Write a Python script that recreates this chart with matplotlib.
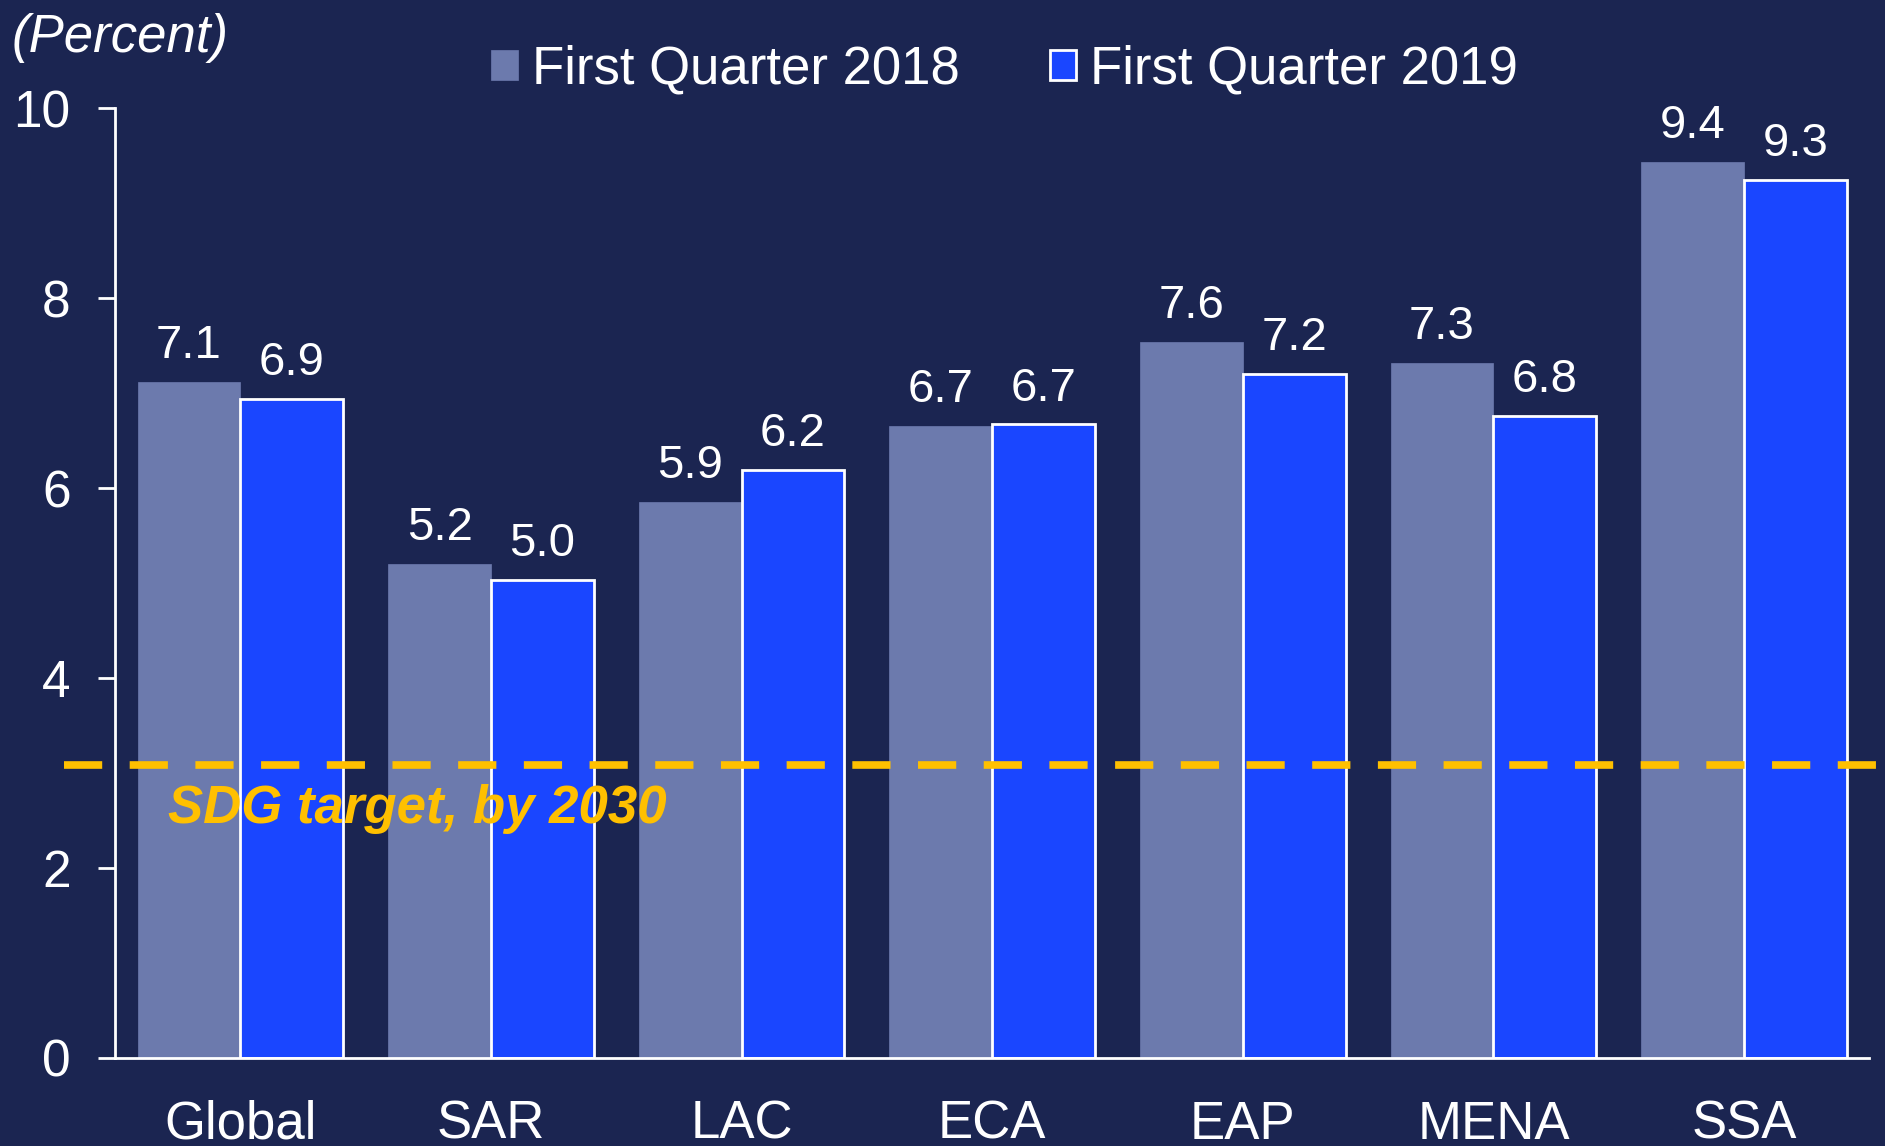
import matplotlib
matplotlib.use('Agg')
import matplotlib.pyplot as plt
import numpy as np

plt.rcParams['font.family'] = ['Liberation Sans', 'DejaVu Sans']

# data
regions = ["Global", "SAR", "LAC", "ECA", "EAP", "MENA", "SSA"]
q1_2018 = [7.12, 5.20, 5.85, 6.65, 7.54, 7.32, 9.43]
q1_2019 = [6.94, 5.03, 6.19, 6.67, 7.20, 6.76, 9.24]
labels_2018 = ["7.1", "5.2", "5.9", "6.7", "7.6", "7.3", "9.4"]
labels_2019 = ["6.9", "5.0", "6.2", "6.7", "7.2", "6.8", "9.3"]
sdg_target = 3.08

bg = "#1B2551"
grey = "#6C7AAD"
blue = "#1A46FF"
gold = "#FFC000"

fig = plt.figure(figsize=(18.85, 11.46), dpi=100, facecolor=bg)
ax = fig.add_axes([0.061, 0.0768, 0.9307, 0.8288], facecolor=bg)

x = np.arange(len(regions))
w = 0.41
b1 = ax.bar(x - w / 2, q1_2018, width=w, color=grey, edgecolor=grey, linewidth=0.5,
            label="First Quarter 2018", zorder=2)
b2 = ax.bar(x + w / 2, q1_2019, width=w, color=blue, edgecolor="white", linewidth=2,
            label="First Quarter 2019", zorder=2)

# value labels above bars
for rect, txt in zip(b1, labels_2018):
    ax.annotate(txt, (rect.get_x() + rect.get_width() / 2, rect.get_height()),
                xytext=(0, 10), textcoords="offset points", ha="center", va="bottom",
                color="white", fontsize=34)
for rect, txt in zip(b2, labels_2019):
    ax.annotate(txt, (rect.get_x() + rect.get_width() / 2, rect.get_height()),
                xytext=(0, 10), textcoords="offset points", ha="center", va="bottom",
                color="white", fontsize=34)

# SDG target line (runs a bit past the axes on both sides)
ax.axhline(sdg_target, xmin=-0.029, xmax=1.01, color=gold, linewidth=5.5,
           dashes=(5.0, 3.6), clip_on=False, zorder=3)
ax.text(-0.29, sdg_target - 0.2, "SDG target, by 2030", color=gold, fontsize=38,
        fontweight="bold", fontstyle="italic", ha="left", va="top", zorder=4)

ax.set_xlim(-0.5, 6.5)
ax.set_ylim(0, 10)
ax.set_yticks([0, 2, 4, 6, 8, 10])
ax.set_xticks(x)
ax.set_xticklabels(regions)

for side in ["top", "right"]:
    ax.spines[side].set_visible(False)
for side in ["left", "bottom"]:
    ax.spines[side].set_color("white")
    ax.spines[side].set_linewidth(2)

ax.tick_params(axis="y", colors="white", labelsize=37, length=12, width=2, pad=20)
ax.tick_params(axis="x", colors="white", labelsize=38, length=0, pad=30)

fig.text(0.006, 1 - 38 / 1146, "(Percent)", color="white", fontsize=38,
         fontstyle="italic", ha="left", va="center")

leg = fig.legend(handles=[b1, b2], loc="center", bbox_to_anchor=(0.533, 0.939),
                 ncol=2, frameon=False, fontsize=38, handlelength=0.5, handleheight=0.5,
                 handletextpad=0.27, columnspacing=1.7, borderaxespad=0)
for t in leg.get_texts():
    t.set_color("white")

fig.savefig("out.png", dpi=100, facecolor=bg)
plt.close(fig)
